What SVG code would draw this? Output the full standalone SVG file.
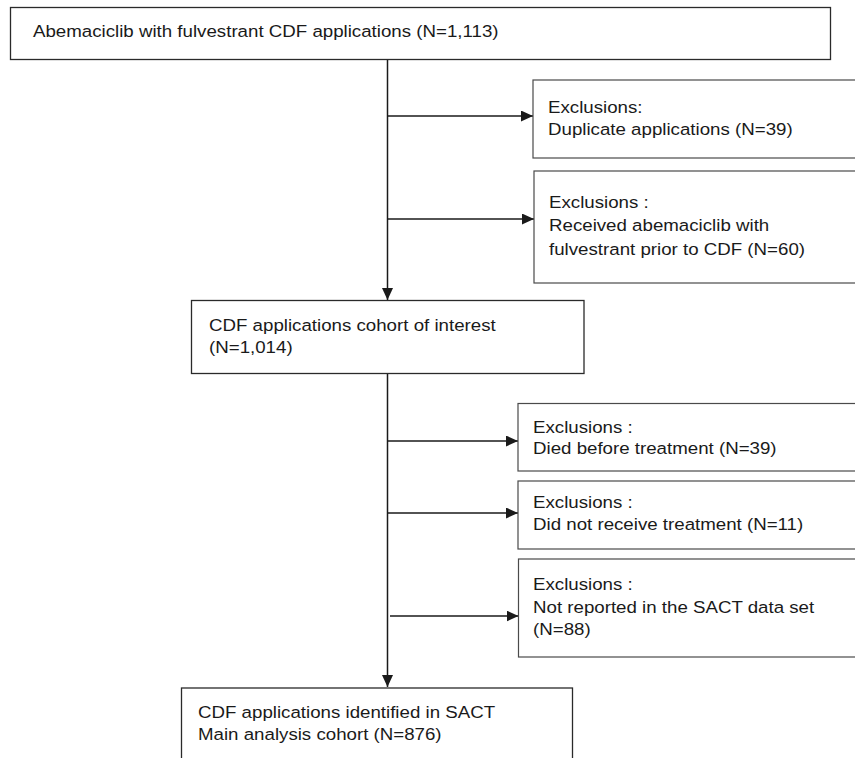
<svg xmlns="http://www.w3.org/2000/svg" width="855" height="758" viewBox="0 0 855 758">
<defs>
<style>
.box{fill:#fff;stroke:#2a2a2a;stroke-width:1.3}
.ex{fill:#fff;stroke:#4a4a4a;stroke-width:1.2}
.ln{fill:none;stroke:#1a1a1a;stroke-width:1.5}
text{font-family:"Liberation Sans",Arial,sans-serif;font-size:17px;fill:#1a1a1a}
</style>
<marker id="ah" viewBox="0 0 12 11" refX="12" refY="5.5" markerWidth="12" markerHeight="11" markerUnits="userSpaceOnUse" orient="auto">
<path d="M0,0 L12,5.5 L0,11 Z" fill="#1a1a1a"/>
</marker>
</defs>
<rect width="855" height="758" fill="#fff"/>
<g id="connectors">
<line class="ln" x1="387.5" y1="60" x2="387.5" y2="300" marker-end="url(#ah)"/>
<line class="ln" x1="387.5" y1="116" x2="533" y2="116" marker-end="url(#ah)"/>
<line class="ln" x1="387.5" y1="219" x2="534" y2="219" marker-end="url(#ah)"/>
<line class="ln" x1="387.5" y1="374" x2="387.5" y2="687" marker-end="url(#ah)"/>
<line class="ln" x1="387.5" y1="441" x2="518" y2="441" marker-end="url(#ah)"/>
<line class="ln" x1="387.5" y1="513" x2="518" y2="513" marker-end="url(#ah)"/>
<line class="ln" x1="390" y1="616" x2="518.5" y2="616" marker-end="url(#ah)"/>
</g>
<g id="n-start">
<rect class="box" x="10.5" y="7.5" width="820" height="52"/>
<g transform="translate(33 0) scale(1.1 1)"><text x="0" y="37">Abemaciclib with fulvestrant CDF applications (N=1,113)</text></g>
</g>
<g id="n-ex1">
<rect class="ex" x="533" y="80" width="340" height="78"/>
<g transform="translate(548 0) scale(1.1 1)">
<text x="0" y="113">Exclusions:</text>
<text x="0" y="135">Duplicate applications (N=39)</text>
</g>
</g>
<g id="n-ex2">
<rect class="ex" x="534" y="171" width="340" height="112"/>
<g transform="translate(549 0) scale(1.1 1)">
<text x="0" y="208">Exclusions :</text>
<text x="0" y="231.5">Received abemaciclib with</text>
<text x="0" y="255">fulvestrant prior to CDF (N=60)</text>
</g>
</g>
<g id="n-cohort">
<rect class="box" x="191.5" y="300.5" width="392.5" height="73"/>
<g transform="translate(209 0) scale(1.1 1)">
<text x="0" y="330.7">CDF applications cohort of interest</text>
<text x="0" y="352.7">(N=1,014)</text>
</g>
</g>
<g id="n-ex3">
<rect class="ex" x="518" y="403.5" width="350" height="67.5"/>
<g transform="translate(533 0) scale(1.1 1)">
<text x="0" y="432.7">Exclusions :</text>
<text x="0" y="454">Died before treatment (N=39)</text>
</g>
</g>
<g id="n-ex4">
<rect class="ex" x="518" y="481" width="350" height="68"/>
<g transform="translate(533 0) scale(1.1 1)">
<text x="0" y="508.3">Exclusions :</text>
<text x="0" y="530">Did not receive treatment (N=11)</text>
</g>
</g>
<g id="n-ex5">
<rect class="ex" x="518.5" y="559" width="350" height="98"/>
<g transform="translate(533 0) scale(1.1 1)">
<text x="0" y="590">Exclusions :</text>
<text x="0" y="613">Not reported in the SACT data set</text>
<text x="0" y="635">(N=88)</text>
</g>
</g>
<g id="n-main">
<rect class="box" x="181.5" y="688" width="391" height="90"/>
<g transform="translate(198 0) scale(1.1 1)">
<text x="0" y="718.3">CDF applications identified in SACT</text>
<text x="0" y="740">Main analysis cohort (N=876)</text>
</g>
</g>
</svg>
